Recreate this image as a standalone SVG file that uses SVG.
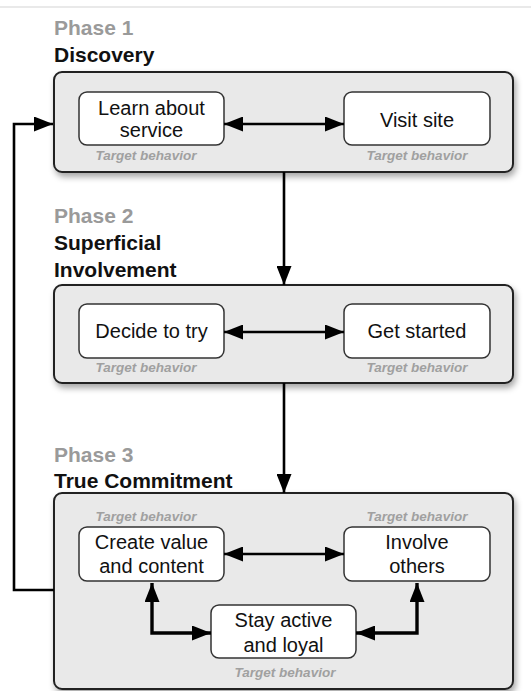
<svg xmlns="http://www.w3.org/2000/svg" width="531" height="691" viewBox="0 0 531 691">
<style>
.bg{fill:#ffffff}
.panel{fill:#e9e9e9;stroke:#222;stroke-width:2}
.box{fill:#ffffff;stroke:#333;stroke-width:1.5}
.phase{font-family:"Liberation Sans",Arial,sans-serif;font-weight:bold;font-size:21px;fill:#9a9a9a}
.title{font-family:"Liberation Sans",Arial,sans-serif;font-weight:bold;font-size:21px;fill:#111}
.lbl{font-family:"Liberation Sans",Arial,sans-serif;font-size:20px;fill:#111;text-anchor:middle}
.tb{font-family:"Liberation Sans",Arial,sans-serif;font-weight:bold;font-style:italic;font-size:13.5px;fill:#a0a0a0;text-anchor:middle}
.c{fill:none;stroke:#000;stroke-width:2.6}
.ct{fill:none;stroke:#000;stroke-width:3.4;stroke-linejoin:miter}
</style>
<defs>
<filter id="sh" x="-5%" y="-10%" width="115%" height="130%">
<feDropShadow dx="2" dy="4" stdDeviation="3" flood-color="#000" flood-opacity="0.35"/>
</filter>
<marker id="ah" markerUnits="userSpaceOnUse" markerWidth="20" markerHeight="15" refX="19" refY="7.5" orient="auto-start-reverse">
<path d="M0,0 L19,7.5 L0,15 z" fill="#000"/>
</marker>
</defs>
<rect class="bg" x="0" y="0" width="531" height="691"/>
<line x1="0" y1="7" x2="531" y2="7" stroke="#e2e2e2" stroke-width="1.5"/>

<g id="phase1">
<text class="phase" x="54" y="35">Phase 1</text>
<text class="title" x="54" y="62">Discovery</text>
<rect class="panel" x="54" y="72" width="459" height="100" rx="8" filter="url(#sh)"/>
</g>
<g id="learn">
<rect class="box" x="79" y="92" width="145" height="53" rx="8"/>
<text class="lbl" x="151.5" y="115">Learn about</text>
<text class="lbl" x="151.5" y="137">service</text>
<text class="tb" x="146" y="160">Target behavior</text>
</g>
<g id="visit">
<rect class="box" x="344" y="92" width="146" height="53" rx="8"/>
<text class="lbl" x="417" y="127">Visit site</text>
<text class="tb" x="417" y="160">Target behavior</text>
</g>

<g id="phase2">
<text class="phase" x="54" y="223">Phase 2</text>
<text class="title" x="54" y="250">Superficial</text>
<text class="title" x="54" y="277">Involvement</text>
<rect class="panel" x="54" y="285" width="459" height="98" rx="8" filter="url(#sh)"/>
</g>
<g id="decide">
<rect class="box" x="79" y="304" width="145" height="54" rx="8"/>
<text class="lbl" x="151.5" y="338">Decide to try</text>
<text class="tb" x="146" y="372">Target behavior</text>
</g>
<g id="started">
<rect class="box" x="344" y="304" width="146" height="54" rx="8"/>
<text class="lbl" x="417" y="338">Get started</text>
<text class="tb" x="417" y="372">Target behavior</text>
</g>

<g id="phase3">
<text class="phase" x="54" y="462">Phase 3</text>
<text class="title" x="54" y="488">True Commitment</text>
<rect class="panel" x="54" y="493" width="459" height="196" rx="8" filter="url(#sh)"/>
</g>
<g id="create">
<text class="tb" x="146" y="521">Target behavior</text>
<rect class="box" x="79" y="527" width="145" height="54" rx="8"/>
<text class="lbl" x="151.5" y="549">Create value</text>
<text class="lbl" x="151.5" y="573">and content</text>
</g>
<g id="involve">
<text class="tb" x="417" y="521">Target behavior</text>
<rect class="box" x="344" y="527" width="146" height="54" rx="8"/>
<text class="lbl" x="417" y="549">Involve</text>
<text class="lbl" x="417" y="573">others</text>
</g>
<g id="stay">
<rect class="box" x="211" y="605" width="145" height="53" rx="8"/>
<text class="lbl" x="283.5" y="627">Stay active</text>
<text class="lbl" x="283.5" y="652">and loyal</text>
<text class="tb" x="285" y="677">Target behavior</text>
</g>

<g id="connectors">
<line class="c" x1="224" y1="124" x2="344" y2="124" marker-start="url(#ah)" marker-end="url(#ah)"/>
<line class="c" x1="224" y1="332" x2="344" y2="332" marker-start="url(#ah)" marker-end="url(#ah)"/>
<line class="c" x1="224" y1="554" x2="344" y2="554" marker-start="url(#ah)" marker-end="url(#ah)"/>
<line class="c" x1="284" y1="172" x2="284" y2="285" marker-end="url(#ah)"/>
<line class="c" x1="284" y1="383" x2="284" y2="493" marker-end="url(#ah)"/>
<path class="c" d="M54,590 H14 V124 H53" stroke-width="2.8" marker-end="url(#ah)"/>
<path class="ct" d="M152,583 V633 H211" marker-start="url(#ah)" marker-end="url(#ah)"/>
<path class="ct" d="M356,633 H417 V583" marker-start="url(#ah)" marker-end="url(#ah)"/>
</g>
</svg>
